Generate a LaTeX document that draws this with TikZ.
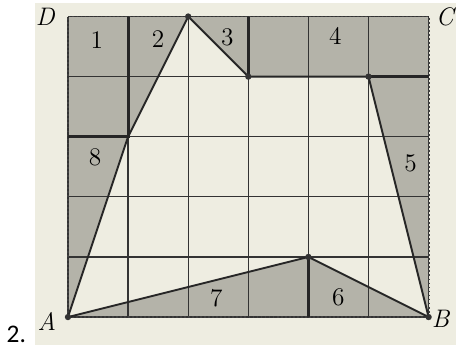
\documentclass[tikz,border=0pt]{standalone}
\usepackage{fontspec}
\newfontfamily\numfont{Carlito}
\usetikzlibrary{positioning}
\definecolor{paper}{HTML}{EEEDE1}
\definecolor{greytone}{HTML}{B4B3A9}

\begin{document}
\begin{tikzpicture}[
      x=1cm, y=1cm,
      cell/.style={draw=black!80, line width=0.6pt},
      side/.style={draw=black!85, line width=0.9pt},
      cut/.style={draw=black!85, line width=1.4pt},
      rim/.style={draw=black!75, line width=0.9pt, densely dotted},
      vtx/.style={circle, fill=black!80, inner sep=0pt, minimum size=3pt},
      corner/.style={font=\large\itshape},
      num/.style={font=\large}
    ]
    \useasboundingbox (-1.131,-0.532) rectangle (6.456,5.275);
    \fill[paper] (-0.549,-0.466) rectangle (6.456,5.225);

    % Vertices of the figure
    \coordinate (A) at (0,0);
    \coordinate (B) at (6,0);
    \coordinate (C) at (6,5);
    \coordinate (D) at (0,5);
    \coordinate (K) at (1,3);
    \coordinate (P) at (2,5);
    \coordinate (Q) at (3,4);
    \coordinate (R) at (5,4);
    \coordinate (S) at (4,1);

    % Shaded pieces
    \fill[greytone, even odd rule] (A) rectangle (C) (A) -- (K) -- (P) -- (Q) -- (R) -- (B) -- (S) -- cycle;
    \draw[cell] (A) grid (C);
    \draw[rim] (A) rectangle (C);

    % Figure and cuts
    \draw[side] (A) -- (K) -- (P) -- (Q) -- (R) -- (B) -- (S) -- cycle;
    \draw[cut] (0,3) -- (K) -- (1,5);
    \draw[cut] (Q) -- (3,5);
    \draw[cut] (R) -- (6,4);
    \draw[cut] (4,0) -- (S);
    \foreach \v in {A,B,P,Q,R,S}
      \node[vtx] at (\v) {};

    % Labels
    \node[corner] (lA) at (-0.35,-0.08) {A};
    \node[corner] (lB) at (6.2,-0.03) {B};
    \node[corner] (lC) at (6.27,5.0) {C};
    \node[corner] (lD) at (-0.38,5.0) {D};
    \node[num] (n1) at (0.48,4.6) {1};
    \node[num] (n2) at (1.5,4.62) {2};
    \node[num] (n3) at (2.65,4.65) {3};
    \node[num] (n4) at (4.45,4.68) {4};
    \node[num] (n5) at (5.7,2.55) {5};
    \node[num] (n6) at (4.5,0.32) {6};
    \node[num] (n7) at (2.47,0.32) {7};
    \node[num] (n8) at (0.45,2.65) {8};
    \node[font=\numfont\fontsize{12}{14}\selectfont] (item) at (-0.86,-0.28) {2.};
  \end{tikzpicture}
\end{document}
